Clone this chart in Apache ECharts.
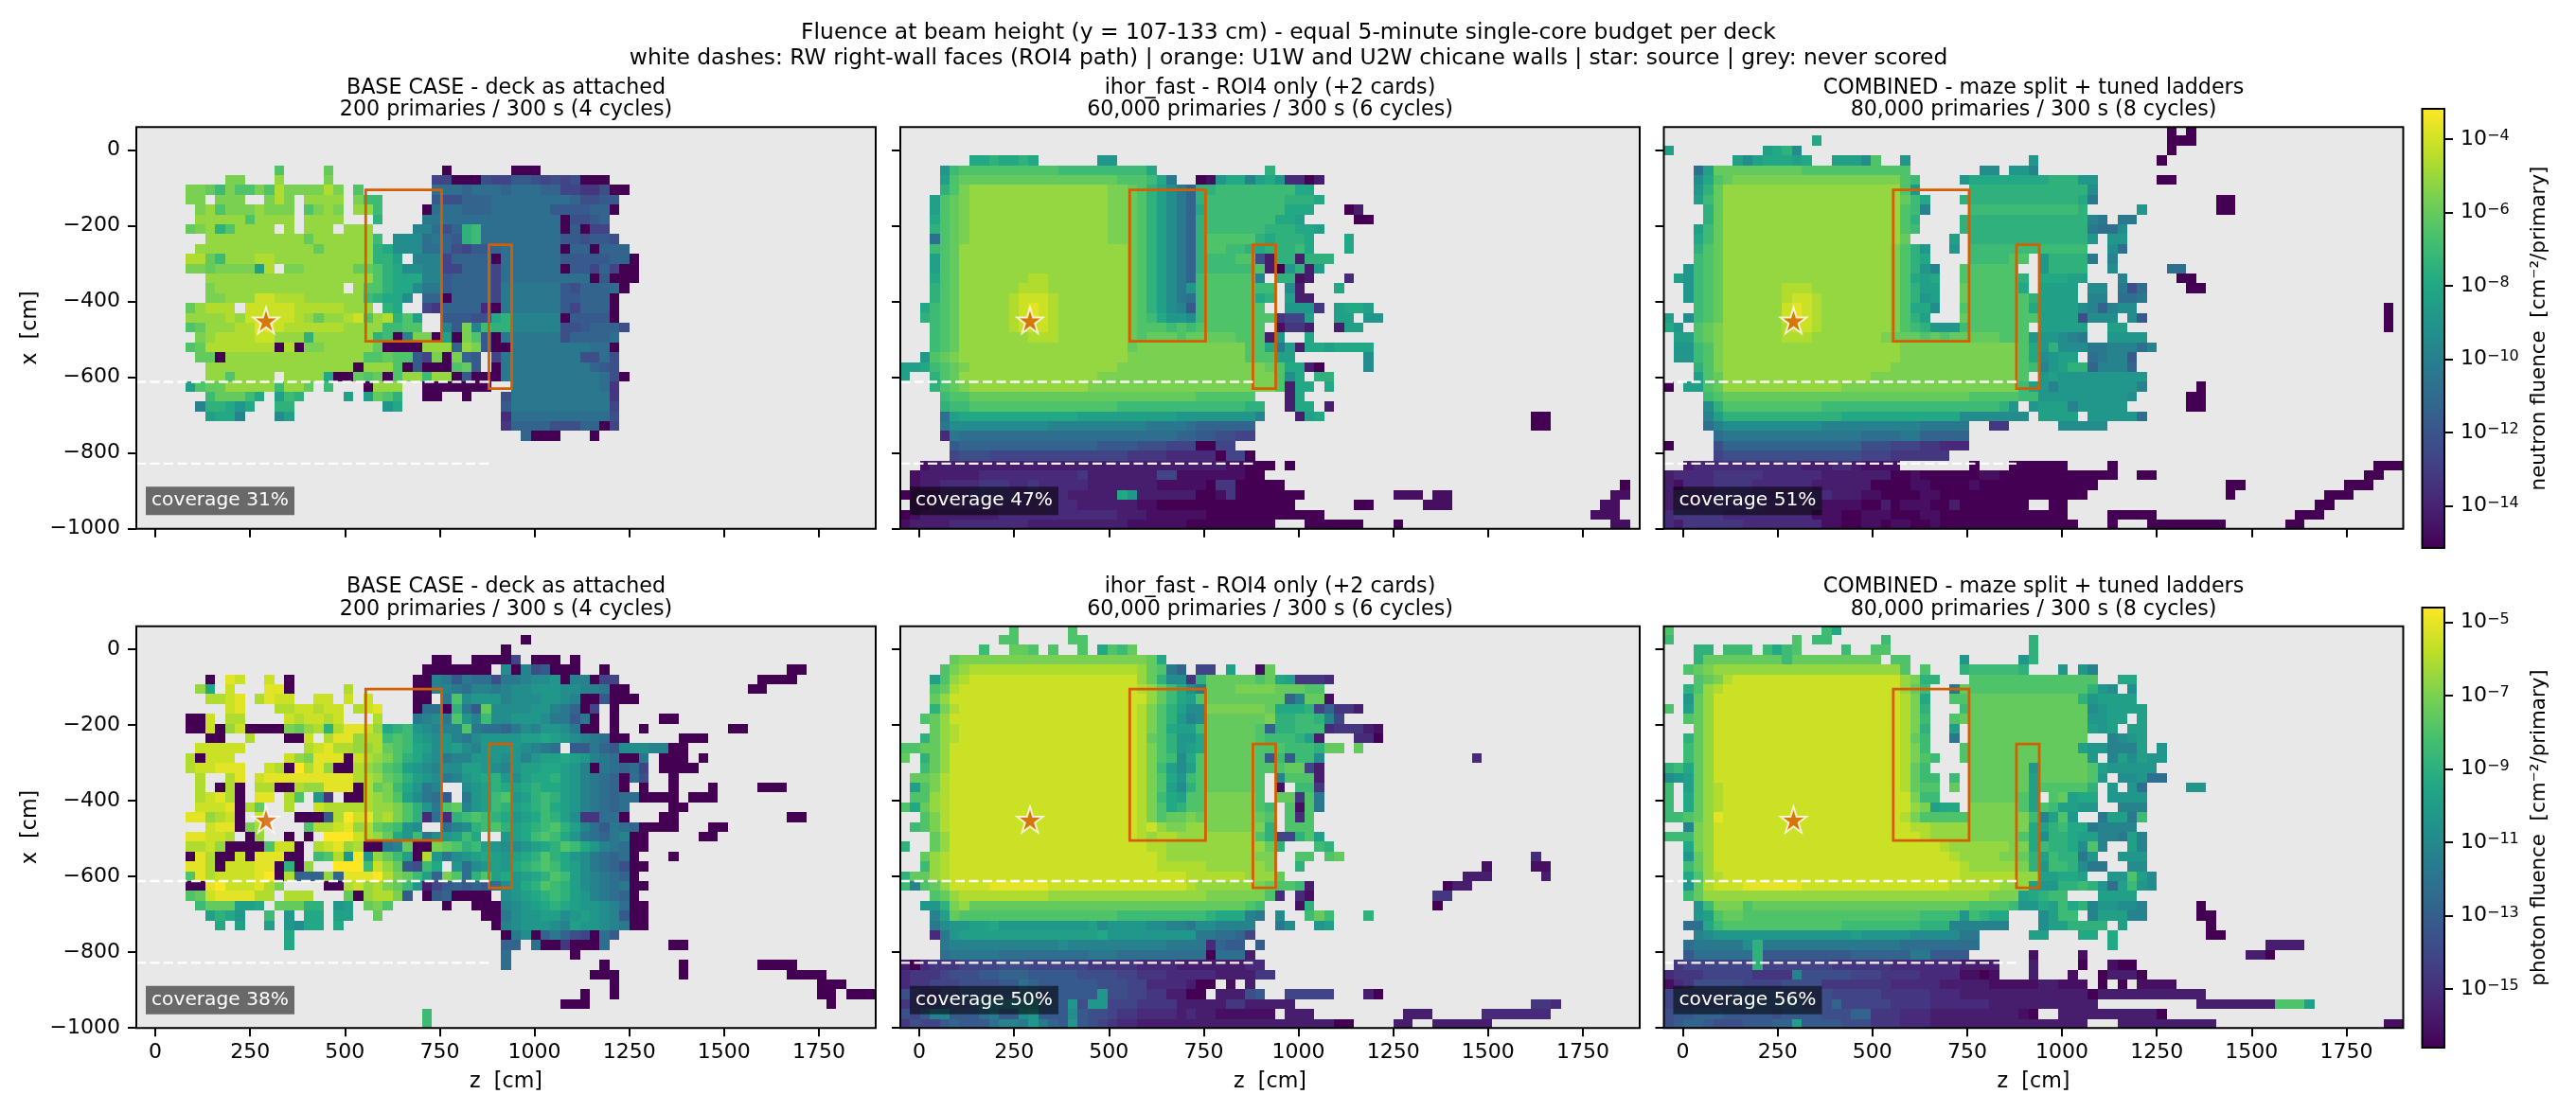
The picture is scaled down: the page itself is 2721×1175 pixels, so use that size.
<!DOCTYPE html>
<html><head><meta charset="utf-8">
<style>html,body{margin:0;padding:0;background:#fff}#c{width:2721px;height:1175px}</style>
<script src="https://cdn.jsdelivr.net/npm/echarts@6/dist/echarts.min.js"></script>
</head><body><div id="c"></div>
<script>
// Each row: "col+levels" tokens. level a..z = position on the colour scale (a lowest, z highest), letter+n repeats n times.
const neutronBase = [
"","","","",
"14s 19t 31a 38a3",
"9u2 14v 19u 30f2 32a3 35gf2h2gfgfg 45a3",
"5u2trus2uswu3 18uwu 22s 30j3ij3ij3i2f2e2g 48a2",
"5u2 8u3 13uwu 17v4 22ur2 30hg2i3j8ig2h2",
"6uvsu3vu2v 14u2 17suvu 22v2r 29aj3h 33i3j6h2g 44h2i2 48a",
"6v5sv2 14v2 17v4 24q 29k2j12 43a g2hi",
"5tuvqsv4 15v 17v3 21v3 28l2jgi 33qr 35j8 43a h 45a 46f2",
"7v10 17tv6 24r 26m3jkih 33qr 35j8 43h2gh2g",
"6v12 18tv5 24q p m3 j2 ig f h2 i j6 43a i2 46a 47i3",
"5w2trv3w2v10 24q2 26o 28l3fi4 36a j6 43h5 48i2 50a",
"5u2tu4 12ow 15u2 17v5 22t2s q 26p m2 l2 f2 i3 fj6 43a h2 f i f 49a2",
"7v17 24s q p3 29l2 h i4 f j9 46a h 48a3",
"7uv13 22v 23s2q p2 m k2 31h i4 f k6 43h g i3 j 49a",
"7u2 9v3 12x2 14w3 v5 22v 23r q p2 27m 29i2 31a i4 f k6 43h2 i3 48a",
"5tvw3 11x5 16w5 21v3 25q p 29f e i4 35d a 37k6 43h f i3 48a",
"5v4 w v x5 w v t v2 w x s v w q s o 31h3 g2 f h 36p q l5 43a h4 48a",
"5s t v3 w2 y2 x w6 v4 t2 25r2 s2 31l h u l r m 36q2 l5 g2h i3 g",
"6u v w4 x2 v3 q v6 q r a l u2 a o a u s t 35h a k6 g i4 j",
"5s t w7 a w a u2 v5 t a4 v3 i v u h a2 k8 j2 a",
"6t2 a v14 s2 t s2 h f u a u i h 36f k8 g2 j g",
"7v15 a v3 s a h a3 s t h 36a k9 i h g",
"7v2 s v3 v 15v4 p a2 t s t a s v2 r v2 a h a3 37k10 j g a",
"5o s t2 v5 r v2 17t 19r 23a v3 29a2 31a4 a 38k9 j e",
"7r t3 r p 14o r q 21o 23o t s q 29a2 33a 37g k10 e",
"6l q2 p n p 14q2 25n p 37h k10 f",
"7o p2 l 14m o 37d j10 g",
"37e i4 g3 i3 47a f",
"39i 40a3 46a",
"","","","","","","","","",""
];
const neutronIhor = [
"","","",
"7p2qp2qp 20n2",
"4n r s10 16r9 25p 37q",
"4o s t16 22s3r p k 30ab np2 lopn d2 a c",
"4q s u v14 u2 23tsqomkiq2 r8 p2",
"3o s t u v14 u2 23tsqomkiq r8 q3 p",
"3o s t u v14 u2 23tsqomkip r8 p3 45a c",
"3p s t u v14 u2 23tsqomkiq r7 p2 o 46a2",
"3q s t u v14 u2 23tsqomkiq r6 q3 p2 o",
"3j s t u v14 u2 23tsqomkiq s5 q p q3 p 45p",
"3r s t v17 23tsqomkiq s2 r2 q p q3 r p 45p",
"3o s t v17 23tsqomkiq r3 s2 g c q2 c q3",
"3o s t v17 23tsqomkiq r5 s c a n q c o",
"3p s t v7 w2 v8 23tsqomkir s5 l 38q2 b c 45d",
"3q s t v6 w3 v8 23tsqomknr s5 r2 39m c 44p",
"3q s t v5 w x3 w v7 23tsqomkjr s5 p q 39o c2",
"2p r s t v5 w x y x w v7 23tsqomlhr s5 s 39n3 e 44o p2 o",
"2q r s t v5 w x y x w v7 23tsr p n2 m r s7 e f2 o 44o2 47n2",
"3r s t v5 w x3 w v7 23t s3 r s r s6 s 38b e2 c 44c o2",
"3r s t v7 w3 v7 t s t3 s t5 s3 c n 41p",
"3r s t v17 t u11 s2 p k o c p2 o p4",
"2n s t u v17 u12 s 36s2 38o2 47m",
"0o2 p r s t u v15 u15 t s p2 c a 47m",
"0o 3q s t v14 u18 s m c 40p 42q2",
"3q s t u v12 u19 s2 39c p2 43p",
"4r s2 t23 s6 39c p",
"4q r2 s15 r13 q2 39c p2 43c",
"4j o p12 o10 n8 l 40c o p 64a2",
"4k m10 l10 k4 j 30i6 64a2",
"4d k j22 i2 h2 g2 f2",
"5h i14 h4 g3 f3 a2 f2",
"5f g3 f14 e4 d5 a 33f2 a",
"2b c30 b2 a3 39a",
"1b c6 d10 e c7 f2 b7 a2",
"1b c2 d4 e3 d2 e d5 c7 b5 a e2 a5 73a",
"0a b3 d3 e5 d5 c5 p n c6 a2 b e a7 50b3 54b2 72b2",
"1b2 c d14 c6 b2 a14 46a2 53b3 71b2",
"0a b c8 d12 c3 b6 a12 70b3",
"0b c4 d8 c10 b6 a7 36a2 41a6 50a 72b2"
];
const neutronCombined = [
"51a 53a",
"15p 51a3",
"0o 10opqm 51a",
"7omop3op 17o3ms 24n 37n 50a",
"3j o t9 s11 32m2 35n2 l",
"3m p s t u17 s r 30n p8 q3 n2 50a2",
"3n q t v18 s n 31q12 m",
"3o r t v18 t r p 30q12 p k 56a2",
"4q t v18 s r l 31r11 q 48n 56a2",
"4q t v18 s q 30q13 l k 46k2",
"3o r t v18 s r 30q13 k j2 m",
"3p r t v18 t 29o 31q12 n 45n2",
"3q s t v17 u s q n 29n 31r12 45m j",
"3r s t v17 u s q p 31r4 s2 38n q4 k 45l",
"2n r s t v17 u s q n l 30s6 38n q4 45m 51j2",
"1on r s t v17 u s p o p 30s6 q 38p3 o2 46l 52a2",
"2n r s t v6 w3 v8 u s q o2 30t s5 p 38o4 43m2 46k g j 53a2",
"2n r s t v6 w x2 w v7 u s q n o 30t s6 q 38o4 43l2 46j2 k",
"3r s t v6 x y x w v7 u s p2 m 30s7 p 38o4 m l i l m2 73a",
"0o 2m r s t v6 x y x w v7 u s q o 30t s6 s 38o4 g m3 47m h 73a",
"0p n 3s t u v6 w x2 w v7 u s r q n3 r s6 38o5 45o2 73a",
"1o2 s t u v6 w3 v7 u t3 s t s t5 s3 n3 m l k 45n4",
"1n2 r s u v18 u12 s 37p n q m3 k2 l3 j l",
"1n2 r s u v18 u12 s 37p m n o2 43j k l2 h",
"3q s u v17 u13 s 37r l n o q2 i l3 i",
"3o s t v15 u15 s 38n o n9",
"0a 2o2 s t v12 u18 r o n l n8 l 54a",
"4r s t25 s5 r2 38n9 m 53a2",
"4m q s10 r18 q n 37n o3 l n5 53a2",
"4l o q12 p12 m7 38o4 43n5 j",
"4j l m10 l10 k5 33e2 40m5",
"5j k14 j4 k2 i5",
"0a 5g i14 g3 f3 e2 d3",
"5f g14 f3 e6",
"2c d11 c3 d2 c b4 31a 35a6 45a 72a3",
"0c d4 e5 d6 c7 a2 b a6 b2 a10 43a3 48a2 71a2",
"0c b d3 e4 d6 c6 a4 b2 a4 b a6 a6 57a2 69a3",
"0c d4 e5 d7 c3 b2 a4 b2 a15 57a 67a3",
"0c d3 e6 d6 b4 a2 c a b3 a2 c a a6 39a2 66a2",
"0d e5 d9 b3 a2 b3 a3 b2 a13 45a5 64a3",
"0d c e6 d8 b2 a2 b2 a b2 a2 b a4 a10 45a 49a8 63a2"
];
const photonBase = [
"",
"39a",
"37a",
"30a2 34a4 38f 40a3 44a",
"29a7 37m a l g h 42a3 47a 66a2",
"7a 9yx 13x 15a 28a2 l k h k j2 g 37k2 l m2 n k 43a l2 46a f2 63a4",
"6vp 9x 13y2 a 21w 28a2 l2 k j l2 k l m2 n3 m2 l2 k l k 48a2 62a2",
"7w2xy 12wy x2 18x2 21x 23x 28a2 31k s m n3 l m3 n2 m l k 45a2 h a3",
"9xy 14w2x2wx2 22wxy 28a j2 a q k h t m4 n2 l k i2 45a f 48a",
"5a2x 9w2 15xwx2wx 24w 28k l m k s n l2 35r m2 n3 m k2 h k a 48a 53a2",
"5a2 x a v x a4 u t v w q w y2 x v p q r n m l3 s k j2 i k m l n2 m k l 45a2 48a 51a 60a2",
"7a2 11w 15a2 x 19w y2 v w 24w r s r o n m n l k m n4 m l k3 h 38n o2 p o n m l k 47j 48a2 55a3",
"6x5 17w x y w2 v 23v w t s r p o m n o m l n4 m l k j 44h2 k i h m3 l2 g 54a2",
"5w a x3 15x v u y3 a x w v u s q p n m k l2 n3 m n l k2 l j h 40n o2 p o n l k j 49a2 k 53a3 57a",
"5w x2 y3 13x w a z w y v a2 w v u s r o n m l m2 o2 n m l2 k j2 h j 38n o2 p2 o n 45l a k j i 50j f 53a4",
"6w 9w y 12x y9 w2 v t s q o n m k l n o p q n m o p2 q o n l k j i 49a j g 54a",
"6w 8a w a 12w2 a2 w v2 y3 a w t u r p n k l 33m n o q p m 38o p q p2 o n l k j i 49a 51a 54a 58a 63a3",
"6w x y w a 12y2 15w s 18n e 21a2 w v u s o m k j h 33k n o r s 38n o q r q o n l k j i j 50j 51a4 56a3",
"6x3 y a w t 15w 18x w5 v2 u s q n k s t m 33l n o r q 38o p q r p o n l k j i j 54a2",
"5y2 v w x a 12x 16a3 h w z x y v w u s q d j d n 32q r s r q p 38n o p r q o m e2 j2 49a 53a2 66a2",
"7x y2 a u w 17s w2 x y v w t s r n m 31j l m q r s q 38o p q r s q o l j h k j 50i 51a4 58a2",
"5y2 x2 w 11a v 15a 17a 19z3 x w v t s 26p n r k m n o r p 37n o p r s r p n k j i k l 50a2 57a2",
"5w2 x v 9a4 s x2 a 18w x y v w 23a2 k l t 28a2 u t s q r o n m2 l 39n o p q s r p n l k j 50a2",
"5a y w a2 x a y3 a2 18r s w n z n v t r o a w n 31k m n o p o 37n o p q s q p n m k j i j 50a 54a",
"5y2 w a x3 y2 14a q a v 20z3 r x v t h g r p 32n j m n o 37n p q r s r p o m k j i g 50a2",
"5s y w x4 y z 14a w i3 v i y3 z w u t r o i u s j 34q s o p 38n o p q s r o m l k j i 50a",
"5a2 y z x3 y2 13w u 19a2 w x v w u t r n 29c f h i h i h j 37m n p q s r q o m l k j k 50a2",
"5s t x y4 w2 15w3 21t a v w2 u 27h 29a h i 32a4 37m n o p q r q o n l k j 49i 50a",
"6r t3 o2 p 14t3 q2 20n o 23t u s 31a 34a3 37l m n o p q p o n2 m l j 50a2",
"7o q p n 13r 15n 17p2 20o2 24t 35a2 37k m n2 o2 m n o n m l 49h 50a2",
"8p 10o 13o 15n m 17p2 20p 36a 37l m n3 m l o n2 m l k 50a2",
"15p 37a k m l 40a i k i g f 46a j h",
"15p 37i2 40j a2 e a3 47j 54a2",
"37j 44a",
"37j 47a 55a 63a4",
"46a3 55a 66a4",
"48a 69a3",
"45a 48a 69a2 72a3",
"43a3 70a",
"29r",
"29r"
];
const photonIhor = [
"11s 17s",
"10s2 17s2",
"8r 11t2s 15s 18s 20p s r t",
"5t u14 u5 t2 26p",
"4s u v w17 v t s 27k i 30f2 33o 36b t",
"3o s v w x18 24v t q m2 e q t5 s t p o e3 d",
"3s t w x18 24w v t r p m k 31t3 u4 t3 s2",
"3t v x19 24x v t r p o s 31t8 i l t2 b",
"3q u w x18 24w u s q o m2 31u6 t p3 q f i e2 c",
"2s t v x19 24w u s q n l m 31t6 u q2 r2 q l f",
"3t v w x18 24w u s p o o r 31t5 s i q2 r3 d e3 c b",
"2q t v w x18 24w t s q n n p 31t5 s r3 q o c 46d2 a",
"0s2 t2 v x19 24w u s q n o p 31t5 s3 r3 q t2 46t",
"0t 2q t v x19 24w u s r m p s 31t5 s h r h r2 m 58d",
"2r t v x19 24w u r o m o s 31t5 s3 39t2 f c",
"1t2 u w x19 24w u s p n r s 31t5 s 38l s3 c",
"1o s u w x19 24w u s o m q s 31t5 s 38b 40r2 e",
"1s2 v w x19 24w u r p o s s 31u5 s 38t2 e s k",
"0s p t v w x19 24w u s p q s s 31u5 s r 39s b s k",
"2s u w x19 24w u s t2 u t 31u5 t s 39s d s",
"1r s u w x19 24w x v u2 v2 31u5 u q 39s3",
"3t v x19 24w v w2 v3 31v5 s q f2 q s o",
"0q 3t v x19 24x w2 v4 31v6 t q 42r q",
"2t v w x20 25x w v4 31v5 u 37u 40s2 43s t 64d",
"2r v w x20 25x w5 31v6 u 40q 59b 64b2",
"0q t2 v w x24 w6 v3 t 57c3 65c",
"0r l s t v x4 y6 x14 w v6 u t s2 r c 55a c2",
"3s t v w9 v16 u6 s 38d 40d b 54e2",
"2n2 q u v t16 t12 s r 40b q 54a",
"3l o t s16 r9 q p3 l k 38m 41r t r 47q",
"3k m n2 o2 p n9 o m n4 m2 l2 k m2 l4 38k m 42n o",
"3d k n o14 p n9 k2 j2 i f",
"4k l11 m l10 k4 d i h2 36h",
"4j k5 j9 k3 j9 a j3 c",
"0c a d e3 f4 g3 f6 e5 d4 c7 d 36d",
"0d e3 f g3 h2 i3 h5 g4 f2 e3 d5 c4 36e2",
"0d e2 f3 g4 h2 j i h6 g3 f2 d4 c a2 33b 35c",
"0g f e2 g2 h6 i2 g h5 g3 f2 e2 c2 a2 32c3 g h 39f5 47c a 20n",
"0e f3 g3 h j k2 l3 h4 g3 f3 e4 c5 e2 c5 64e2 d 17n 19n2",
"0g f h l2 h3 j k h2 m n h5 g2 f e2 d4 c d c2 b6 39c3 51c3 59d7 17m",
"0e g f2 h i h3 j l2 k n k i h j h g f e d2 c20 a2 50c2 54c6 17n"
];
const photonCombined = [
"0s 16rp",
"0r 13s 15r2 22r 37q",
"3q2 6r3 10rpr s 18r 21s2 37q",
"3q t8 r t9 23s2 30n 36n q",
"2s t u v19 s 26s 30q r5 q 40n 42nl",
"3s t u w x17 v u q2 31s13 46p2",
"2q s v w x18 v t r 29k t s12 q n m 47m",
"2n t v x19 w u p 29s2 t11 q n o4",
"0s 2o t v x19 w u q 30r t12 m n o4",
"2s t v x19 w u r 29s t13 n2 o2 48o",
"3t v x19 w u q 29o 31t12 o n o 47o2",
"2q t v x19 w t r 29k 31t12 45l m n o",
"2r t v x19 w u r 30s t11 o n2 l3 o 50n",
"2r t v x19 w u s r 30s t12 n 45l o m o 49n2",
"0qrp t v x19 w t r 31t6 n t5 s o n5",
"0mno t v x19 w t r2 29r 31t6 o t5 s n 46m2 n 49j2",
"0r 2o t v w x18 w t s2 29t 31t6 o s5 q 45n 47n j 53n2",
"0r 2p t v w x18 x u r2 31t5 s o 39s t o p2 45n4",
"0r 2p t v w x18 x v u o p2 31u5 s o 38s r o2 n2 46l3",
"0r2s t v y x18 24w u s5 31u6 r l o s n 44k o2 k r",
"2l u v x20 w2 v4 u6 37p o q r p2 k l4",
"0r3 u v x21 w v4 u5 s 37p m q2 p o2 l2 k o l",
"2p u v x23 w v6 u3 s 37p r q2 p m s l 47o l",
"2n t v x24 w v4 u2 t s 37q o r q2 k n 46n n2",
"2r t v x24 x w v5 u2 s 37q n r2 q m k2 47m2",
"2p s v w x24 w6 v2 t 38o2 p2 o 45n2 s o m",
"2n t w x3 y6 x15 w5 v3 t 37o n2 q2 r q n j o r n m",
"2r t v4 v25 u4 s 36o p q r2 44o4",
"3n r u3 s t22 s4 r 36n2 p o r p q l n2 m2 l 54a",
"3n o s t2 s18 r4 n r q p2 38m o r2 43l o3 l2 54a2",
"2j2 p r s12 r8 q3 l6 38m o2 q3 q 46o 55a",
"3l m n14 o n5 m5 k2 37o2 42p2 45p 55a2",
"2j k5 m q k14 j8 45p 61c4",
"2h j6 q h9 i6 k2 h4 37b 42b 59c2 a",
"1e f7 q f7 e6 d7 c4 37c 42a 45b a2",
"0d e3 f5 e4 l g5 f3 e4 d4 b2 a b 37c 41b 44a c3 a",
"0b d e g5 f4 g4 e7 d5 c5 b5 c2 b3 44a 46a 48b4",
"0f g6 h5 g5 f5 e5 d3 c13 a c11",
"0f g5 h6 i2 g3 i f5 e4 d6 c11 54c8 s3 o",
"0g h2 i3 h5 g h4 g3 i2 e3 d3 c9 b a 40c10 a",
"0g h i2 h g3 h3 i2 o h4 g3 e3 d3 c16 46c10 73b2"
];
const neutronRange = [-15.15, -3.17];
const photonRange = [-16.6, -4.6];
const viridisStops = ['#440154','#482475','#414487','#355f8d','#2a788e','#21918c','#22a884','#44bf70','#7ad151','#bddf26','#fde725'];
const neutronTicks = [-14,-12,-10,-8,-6,-4];
const photonTicks = [-15,-13,-11,-9,-7,-5];
const zTicks = [0,250,500,750,1000,1250,1500,1750];
const xTicks = [-1000,-800,-600,-400,-200,0];
const cellSize = 26, zStart = -50, xStart = 64;
const walls = [[555,-105,755,-505],[880,-250,940,-630]];
const rwFaces = [-612,-828];
const rwFaceEnd = 880;
const source = [292,-450];
const panelTitles = ['BASE CASE - deck as attached\n200 primaries / 300 s (4 cycles)','ihor_fast - ROI4 only (+2 cards)\n60,000 primaries / 300 s (6 cycles)','COMBINED - maze split + tuned ladders\n80,000 primaries / 300 s (8 cycles)'];
const coverage = [['31%','47%','51%'],['38%','50%','56%']];
const grids2D = [[neutronBase,neutronIhor,neutronCombined],[photonBase,photonIhor,photonCombined]];
const ranges = [neutronRange,photonRange];
const tickSets = [neutronTicks,photonTicks];
const cbNames = ['neutron fluence  [cm⁻²/primary]','photon fluence  [cm⁻²/primary]'];

const FS = 22.2, TS = 22, FONT = '"DejaVu Sans"';
const panelLeft = [144,951,1757.5], panelW = 781, rowTop = [134.2,661.7], panelH = 424.5;
const cbLeft = 2558.5, cbW = 23.5, cbTop = [115,642], cbH = [464,465];

function decode(rows, range){
  const out=[];
  rows.forEach((row,k)=>{
    let col=0;
    row.split(' ').forEach(tok=>{
      const m=/^(\d*)(.*)$/.exec(tok); if(!tok) return;
      if(m[1]!=='') col=+m[1];
      (m[2].match(/[a-z]\d*/g)||[]).forEach(t=>{
        const n=t.length>1?+t.slice(1):1, lv=(t.charCodeAt(0)-97)/25;
        for(let i=0;i<n;i++,col++){
          if(col<75) out.push([zStart+cellSize*(col+.5), xStart-cellSize*(k+.5), range[0]+lv*(range[1]-range[0])]);
        }
      });
    });
  });
  return out;
}
function dedupe(items){const m=new Map();items.forEach(d=>m.set(d[0]+'|'+d[1],d));return [...m.values()];}
function renderCell(params,api){
  const a=api.coord([api.value(0)-cellSize/2,api.value(1)+cellSize/2]);
  const b=api.coord([api.value(0)+cellSize/2,api.value(1)-cellSize/2]);
  const x=Math.round(a[0]),y=Math.round(a[1]);
  return {type:'rect',shape:{x,y,width:Math.round(b[0])-x,height:Math.round(b[1])-y},style:{fill:api.visual('color')}};
}
function renderFrame(params,api){
  const c=params.coordSys;
  const L=[];
  walls.forEach(w=>{
    const a=api.coord([w[0],w[1]]),b=api.coord([w[2],w[3]]);
    L.push({type:'rect',shape:{x:a[0],y:a[1],width:b[0]-a[0],height:b[1]-a[1]},style:{fill:'none',stroke:'#d55e00',lineWidth:2.8}});
  });
  rwFaces.forEach(f=>{
    const a=api.coord([-50,f]),b=api.coord([rwFaceEnd,f]);
    L.push({type:'line',shape:{x1:a[0],y1:a[1],x2:b[0],y2:b[1]},style:{stroke:'rgba(255,255,255,.95)',lineWidth:2.4,lineDash:[10,4.5]}});
  });
  L.push({type:'rect',shape:{x:c.x,y:c.y,width:c.width,height:c.height},style:{fill:'none',stroke:'#000',lineWidth:2}});
  return {type:'group',children:L};
}
function renderBar(params,api){
  const c=params.coordSys;
  return {type:'group',children:[
    {type:'rect',shape:{x:c.x,y:c.y,width:c.width,height:c.height},style:{fill:new echarts.graphic.LinearGradient(0,1,0,0,viridisStops.map((s,i)=>({offset:i/10,color:s})))}},
    {type:'rect',shape:{x:c.x,y:c.y,width:c.width,height:c.height},style:{fill:'none',stroke:'#000',lineWidth:2}}
  ]};
}
function starPath(){
  let s='';
  for(let i=0;i<10;i++){
    const r=i%2?0.381:1,t=-Math.PI/2+i*Math.PI/5;
    s+=(i?'L':'M')+(r*Math.cos(t)*50+50).toFixed(2)+' '+(r*Math.sin(t)*50+50).toFixed(2);
  }
  return 'path://'+s+'Z';
}
const minus=v=>String(v).replace('-','−');
const grid=[],xAxis=[],yAxis=[],series=[],title=[],graphic=[],vmIdx=[[],[]];
title.push({text:'Fluence at beam height (y = 107-133 cm) - equal 5-minute single-core budget per deck\nwhite dashes: RW right-wall faces (ROI4 path) | orange: U1W and U2W chicane walls | star: source | grey: never scored',left:1361,top:22,textAlign:'center',padding:0,textStyle:{fontFamily:FONT,fontSize:23.4,fontWeight:'normal',color:'#000',lineHeight:26.5}});
const axisCommon={axisLine:{show:false,onZero:false},splitLine:{show:false},axisTick:{show:true,length:9,lineStyle:{color:'#000',width:2}}};
for(let r=0;r<2;r++)for(let c=0;c<3;c++){
  const g=grid.length;
  grid.push({left:panelLeft[c],top:rowTop[r],width:panelW,height:panelH,show:true,backgroundColor:'#e8e8e8',borderWidth:0,containLabel:false});
  xAxis.push({...axisCommon,gridIndex:g,type:'value',min:-50,max:1900,name:r?'z  [cm]':'',nameLocation:'middle',nameGap:46,nameTextStyle:{fontFamily:FONT,fontSize:FS,color:'#000'},
    axisTick:{...axisCommon.axisTick,customValues:zTicks},axisLabel:{show:r===1,customValues:zTicks,fontFamily:FONT,fontSize:TS,color:'#000',margin:15,formatter:minus}});
  yAxis.push({...axisCommon,gridIndex:g,type:'value',min:-1000,max:61,name:c?'':'x  [cm]',nameLocation:'middle',nameGap:101,nameRotate:90,nameTextStyle:{fontFamily:FONT,fontSize:FS,color:'#000'},
    axisTick:{...axisCommon.axisTick,customValues:xTicks},axisLabel:{show:c===0,customValues:xTicks,fontFamily:FONT,fontSize:TS,color:'#000',margin:17,padding:[3,0,0,0],formatter:minus}});
  vmIdx[r].push(series.length);
  series.push({type:'custom',coordinateSystem:'cartesian2d',xAxisIndex:g,yAxisIndex:g,clip:true,silent:true,renderItem:renderCell,encode:{x:0,y:1},dimensions:['z','x','v'],data:dedupe(decode(grids2D[r][c],ranges[r])),z:2});
  series.push({type:'custom',coordinateSystem:'cartesian2d',xAxisIndex:g,yAxisIndex:g,clip:false,silent:true,renderItem:renderFrame,data:[[0,0]],z:5});
  series.push({type:'scatter',xAxisIndex:g,yAxisIndex:g,silent:true,symbol:starPath(),symbolSize:27,data:[source],itemStyle:{color:'#d55e00',borderColor:'#fff',borderWidth:2},z:6});
  title.push({text:panelTitles[c],left:panelLeft[c]+panelW/2,top:rowTop[r]-53,textAlign:'center',padding:0,textStyle:{fontFamily:FONT,fontSize:FS,fontWeight:'normal',color:'#000',lineHeight:23.5}});
  graphic.push({type:'text',x:panelLeft[c]+10,y:rowTop[r]+panelH-44.5,z:50,style:{text:'coverage '+coverage[r][c],fill:'#fff',fontFamily:FONT,fontSize:20.2,backgroundColor:'rgba(0,0,0,.55)',padding:[5,6,5,6]}});
}
for(let r=0;r<2;r++){
  const g=grid.length;
  grid.push({left:cbLeft,top:cbTop[r],width:cbW,height:cbH[r],show:false});
  xAxis.push({gridIndex:g,type:'value',min:0,max:1,show:false});
  yAxis.push({...axisCommon,gridIndex:g,type:'value',position:'right',min:ranges[r][0],max:ranges[r][1],name:cbNames[r],nameLocation:'middle',nameGap:90,nameRotate:90,nameTextStyle:{fontFamily:FONT,fontSize:21.4,color:'#000'},
    axisTick:{...axisCommon.axisTick,customValues:tickSets[r]},
    axisLabel:{customValues:tickSets[r],margin:17,fontFamily:FONT,fontSize:TS,color:'#000',formatter:v=>'{a|10}{b|'+minus(v)+'}',rich:{a:{fontFamily:FONT,fontSize:TS,color:'#000'},b:{fontFamily:FONT,fontSize:16,color:'#000',verticalAlign:'top',lineHeight:16}}}});
  series.push({type:'custom',coordinateSystem:'cartesian2d',xAxisIndex:g,yAxisIndex:g,clip:false,silent:true,renderItem:renderBar,data:[[0,ranges[r][0]]],z:3});
}
const chart=echarts.init(document.getElementById('c'),null,{renderer:'canvas',width:2721,height:1175});
chart.setOption({animation:false,backgroundColor:'#fff',title,grid,xAxis,yAxis,series,graphic,
  visualMap:[0,1].map(r=>({show:false,type:'continuous',seriesIndex:vmIdx[r],dimension:2,min:ranges[r][0],max:ranges[r][1],inRange:{color:viridisStops}}))});
</script></body></html>
